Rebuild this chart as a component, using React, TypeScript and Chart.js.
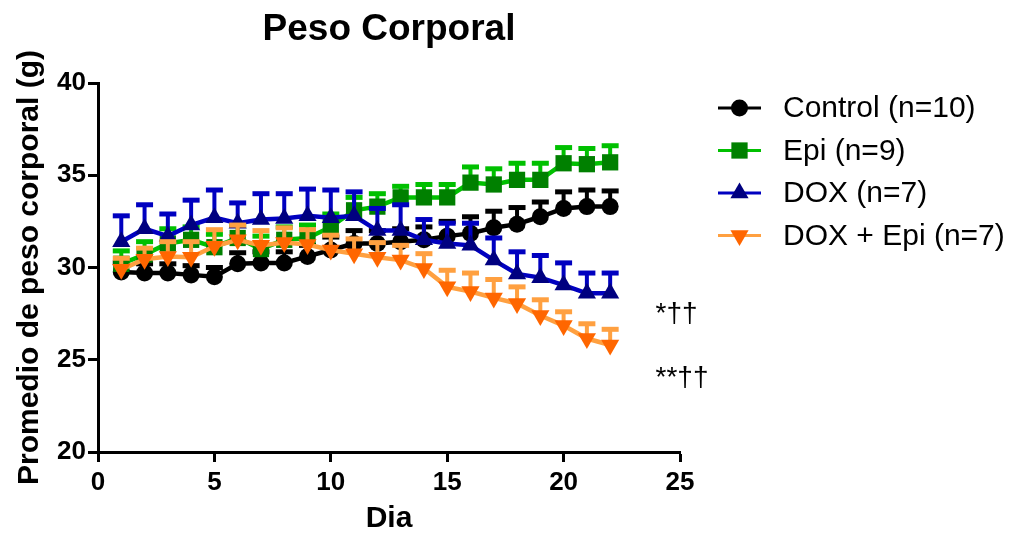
import React, { useEffect, useRef } from "react";
import { Chart, registerables } from "chart.js";

Chart.register(...registerables);

// ---------- data ----------
const days = [1, 2, 3, 4, 5, 6, 7, 8, 9, 10, 11, 12, 13, 14, 15, 16, 17, 18, 19, 20, 21, 22];

const seriesLabels = ["Control (n=10)", "Epi (n=9)", "DOX (n=7)", "DOX + Epi (n=7)"];

const controlMean = [29.75, 29.7, 29.7, 29.6, 29.5, 30.2, 30.25, 30.25, 30.6, 30.95, 31.3, 31.3, 31.4, 31.5, 31.7, 31.85, 32.15, 32.35, 32.75, 33.2, 33.3, 33.3];
const controlSem = [0.5, 0.5, 0.5, 0.5, 0.5, 0.6, 0.6, 0.6, 0.6, 0.7, 0.7, 0.7, 0.7, 0.7, 0.8, 0.9, 0.9, 0.9, 0.8, 0.9, 0.9, 0.85];

const epiMean = [30.2, 30.7, 31.3, 31.5, 31.1, 31.6, 31.0, 31.5, 31.6, 32.2, 33.1, 33.3, 33.8, 33.8, 33.8, 34.6, 34.5, 34.75, 34.75, 35.65, 35.6, 35.7];
const epiSem = [0.7, 0.7, 0.8, 0.7, 0.7, 0.7, 0.7, 0.7, 0.7, 0.7, 0.7, 0.7, 0.6, 0.7, 0.7, 0.85, 0.85, 0.9, 0.9, 0.85, 0.85, 0.9];

const doxMean = [31.4, 32.1, 31.7, 32.3, 32.7, 32.4, 32.6, 32.65, 32.8, 32.7, 32.8, 32.0, 32.0, 31.5, 31.3, 31.2, 30.4, 29.65, 29.45, 29.05, 28.6, 28.6];
const doxSem = [1.4, 1.3, 1.2, 1.35, 1.5, 1.1, 1.4, 1.35, 1.45, 1.5, 1.3, 1.2, 1.4, 1.1, 1.1, 1.2, 1.2, 1.2, 1.2, 1.2, 1.1, 1.1];

const doxEpiMean = [29.9, 30.45, 30.6, 30.55, 31.15, 31.5, 31.2, 31.35, 31.25, 30.95, 30.75, 30.55, 30.4, 29.95, 28.95, 28.7, 28.35, 28.05, 27.4, 26.85, 26.15, 25.8];
const doxEpiSem = [0.6, 0.6, 0.8, 0.85, 0.9, 0.8, 0.8, 0.8, 0.8, 0.8, 0.8, 0.8, 0.8, 0.8, 0.9, 1.0, 1.0, 0.9, 0.85, 0.75, 0.8, 0.85];

const xTicks = [0, 5, 10, 15, 20, 25];
const yTicks = [20, 25, 30, 35, 40];

const titleText = "Peso Corporal";
const xTitleText = "Dia";
const yTitleText = "Promedio de peso corporal (g)";
const annotationTexts = ["*††", "**††"];

// ---------- styles ----------
const FONT = "'Liberation Sans', Arial, Helvetica, sans-serif";
const lineColors = ["#000000", "#00C000", "#0000C0", "#FFA040"];
const markerColors = ["#000000", "#008000", "#000080", "#FF6600"];
const markerStyles = ["circle", "rect", "triangle", "triangle"];
const markerRotations = [0, 0, 0, 180];
const markerRadii = [8.5, 11.5, 10.5, 10.5];
const means = [controlMean, epiMean, doxMean, doxEpiMean];
const sems = [controlSem, epiSem, doxSem, doxEpiSem];

function drawMarker(ctx: CanvasRenderingContext2D, i: number, x: number, y: number) {
  const r = markerRadii[i];
  ctx.fillStyle = markerColors[i];
  ctx.beginPath();
  if (markerStyles[i] === "circle") {
    ctx.arc(x, y, r, 0, Math.PI * 2);
  } else if (markerStyles[i] === "rect") {
    const s = r * Math.SQRT1_2;
    ctx.rect(x - s, y - s, 2 * s, 2 * s);
  } else {
    const dir = markerRotations[i] === 180 ? -1 : 1;
    const h = (Math.sqrt(3) / 2) * r;
    ctx.moveTo(x, y - dir * r);
    ctx.lineTo(x + h, y + dir * r / 2);
    ctx.lineTo(x - h, y + dir * r / 2);
    ctx.closePath();
  }
  ctx.fill();
}

const errorBarPlugin = {
  id: "errorBars",
  beforeDatasetDraw(chart: any, args: any) {
    const i = args.index;
    const ctx = chart.ctx;
    const xs = chart.scales.x;
    const ys = chart.scales.y;
    ctx.save();
    ctx.strokeStyle = lineColors[i];
    means[i].forEach((v, j) => {
      const x = xs.getPixelForValue(days[j]);
      const y0 = ys.getPixelForValue(v);
      const y1 = ys.getPixelForValue(v + sems[i][j]);
      ctx.lineWidth = 4;
      ctx.beginPath();
      ctx.moveTo(x, y0);
      ctx.lineTo(x, y1);
      ctx.stroke();
      ctx.lineWidth = 5;
      ctx.beginPath();
      ctx.moveTo(x - 8.5, y1);
      ctx.lineTo(x + 8.5, y1);
      ctx.stroke();
    });
    ctx.restore();
  },
};

const decorPlugin = {
  id: "decor",
  afterDraw(chart: any) {
    const ctx = chart.ctx as CanvasRenderingContext2D;
    const area = chart.chartArea;
    const xs = chart.scales.x;
    const ys = chart.scales.y;
    ctx.save();
    // title
    ctx.fillStyle = "#000";
    ctx.font = `bold 37px ${FONT}`;
    ctx.textAlign = "center";
    ctx.textBaseline = "alphabetic";
    ctx.fillText(titleText, (area.left + area.right) / 2, 40);

    // legend
    ctx.textAlign = "left";
    ctx.textBaseline = "middle";
    ctx.font = `30px ${FONT}`;
    seriesLabels.forEach((label, i) => {
      const y = 108 + i * 42.5;
      ctx.strokeStyle = lineColors[i];
      ctx.lineWidth = 3;
      ctx.beginPath();
      ctx.moveTo(718, y);
      ctx.lineTo(761, y);
      ctx.stroke();
      drawMarker(ctx, i, 739.5, y);
      ctx.fillStyle = "#000";
      ctx.fillText(label, 783, y + 1);
    });

    // significance annotations
    ctx.font = `28px ${FONT}`;
    ctx.fillStyle = "#000";
    ctx.textBaseline = "middle";
    ctx.fillText(annotationTexts[0], xs.getPixelForValue(23.95), ys.getPixelForValue(27.45));
    ctx.fillText(annotationTexts[1], xs.getPixelForValue(23.95), ys.getPixelForValue(23.98));
    ctx.restore();
  },
};

export default function App() {
  const canvasRef = useRef<HTMLCanvasElement | null>(null);

  useEffect(() => {
    if (!canvasRef.current) return;
    const datasets = seriesLabels.map((label, i) => ({
      label,
      data: days.map((d, j) => ({ x: d, y: means[i][j] })),
      borderColor: lineColors[i],
      backgroundColor: markerColors[i],
      borderWidth: 4.5,
      tension: 0,
      pointStyle: markerStyles[i] as any,
      pointRotation: markerRotations[i],
      pointRadius: markerRadii[i],
      pointBackgroundColor: markerColors[i],
      pointBorderColor: markerColors[i],
      pointBorderWidth: 0,
      order: 3 - i,
      clip: false as any,
    }));

    const chart = new Chart(canvasRef.current, {
      type: "line",
      data: { datasets },
      plugins: [errorBarPlugin, decorPlugin],
      options: {
        responsive: false,
        animation: false,
        events: [],
        layout: { padding: { left: 0, top: 83, right: 344, bottom: 0 } },
        plugins: {
          legend: { display: false },
          title: { display: false },
          tooltip: { enabled: false },
        },
        scales: {
          x: {
            type: "linear",
            min: 0,
            max: 25,
            afterBuildTicks: (scale: any) => {
              scale.ticks = xTicks.map((v) => ({ value: v }));
            },
            afterFit: (scale: any) => {
              scale.height = 85;
            },
            ticks: {
              color: "#000",
              font: { family: FONT, size: 26, weight: "bold" },
              padding: 5,
              maxRotation: 0,
              autoSkip: false,
            },
            grid: {
              drawOnChartArea: false,
              drawTicks: true,
              tickLength: 10,
              tickWidth: 3,
              tickColor: "#000",
            },
            border: { color: "#000", width: 3 },
            title: {
              display: true,
              text: xTitleText,
              color: "#000",
              font: { family: FONT, size: 30, weight: "bold" },
              padding: { top: 0, bottom: 0 },
            },
          },
          y: {
            type: "linear",
            min: 20,
            max: 40,
            afterBuildTicks: (scale: any) => {
              scale.ticks = yTicks.map((v) => ({ value: v }));
            },
            afterFit: (scale: any) => {
              scale.width = 98;
            },
            ticks: {
              color: "#000",
              font: { family: FONT, size: 26, weight: "bold" },
              padding: 2,
              autoSkip: false,
            },
            grid: {
              drawOnChartArea: false,
              drawTicks: true,
              tickLength: 10,
              tickWidth: 3,
              tickColor: "#000",
            },
            border: { color: "#000", width: 3 },
            title: {
              display: true,
              text: yTitleText,
              color: "#000",
              font: { family: FONT, size: 30, weight: "bold" },
              padding: { top: 12, bottom: 0 },
            },
          },
        },
      } as any,
    });
    return () => chart.destroy();
  }, []);

  return (
    <div style={{ position: "fixed", left: 0, top: 0, width: 1024, height: 537, background: "#fff" }}>
      <canvas ref={canvasRef} width={1024} height={537} style={{ display: "block" }} />
    </div>
  );
}
